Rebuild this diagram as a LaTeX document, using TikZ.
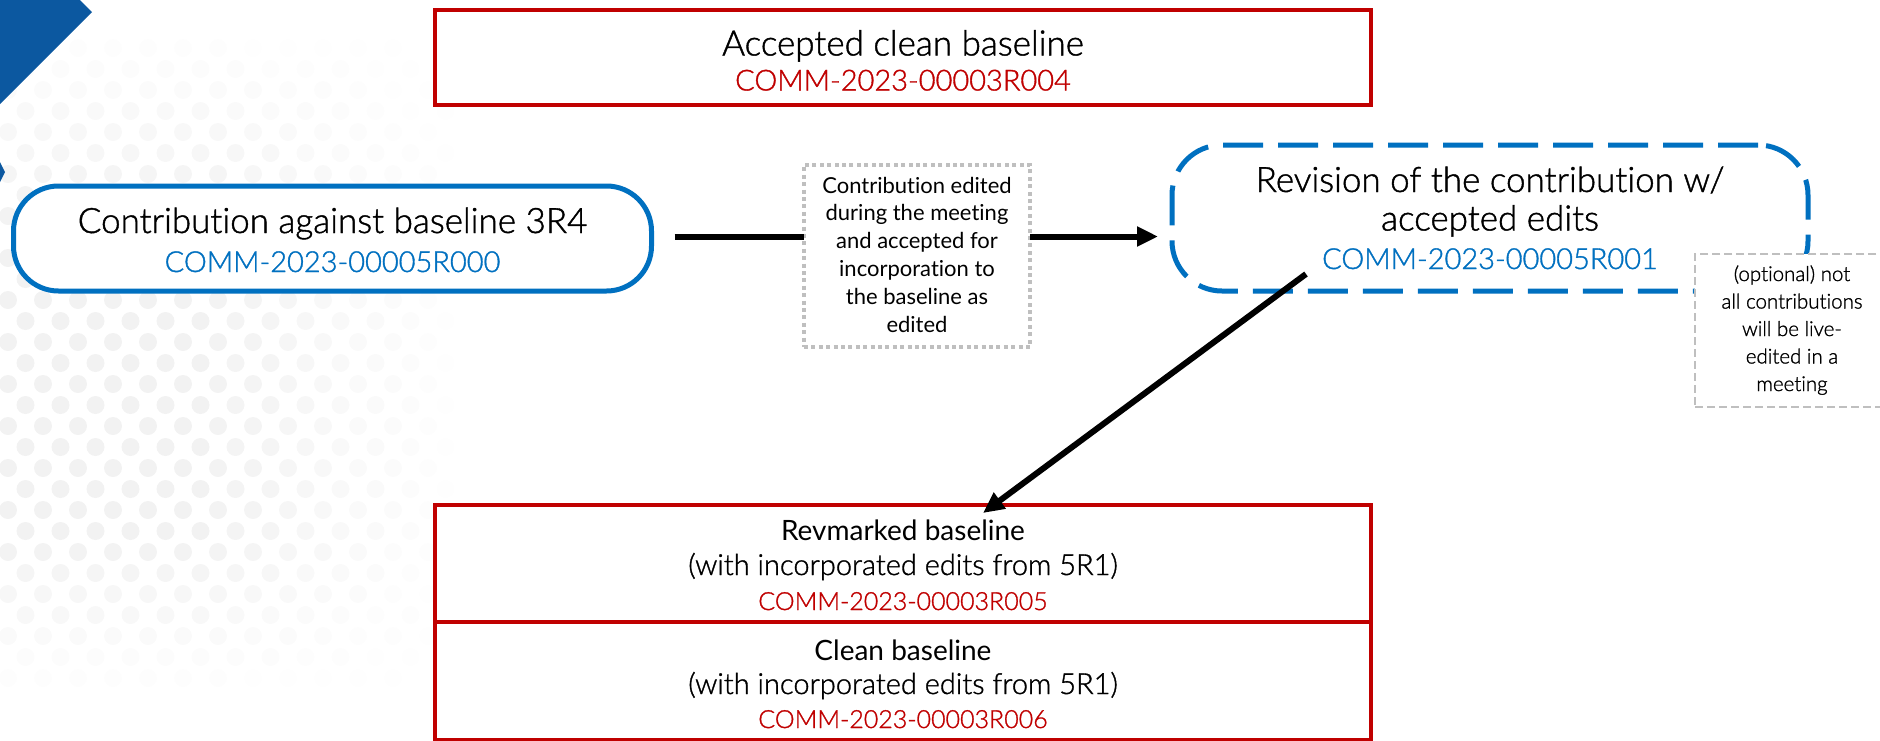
\documentclass[tikz,border=0pt]{standalone}
\usepackage{fontspec}
\setmainfont{Lato}[Ligatures=NoCommon]
\newfontfamily\lightfont{Lato Light}[Ligatures=NoCommon,FakeBold=1.2]
\usetikzlibrary{arrows.meta}
\definecolor{cred}{HTML}{C00000}
\definecolor{cblue}{HTML}{0070C0}
\definecolor{cdark}{RGB}{12,88,160}
\definecolor{cgray}{HTML}{BFBFBF}
\newcommand\hstrut[1]{\rule{0pt}{#1pt}}
\newcommand\dstrut[1]{\rule[-#1pt]{0pt}{#1pt}}
\begin{document}
\begin{tikzpicture}[x=1pt,y=-1pt,
  redbox/.style={draw=cred,line width=4pt,fill=white,inner sep=0pt,outer sep=0pt,align=center,minimum width=936pt},
  bluebox/.style={draw=cblue,line width=5pt,fill=white,rounded corners=45pt,inner sep=0pt,outer sep=0pt,align=center},
  dashbox/.style={draw=cblue,line width=5pt,fill=white,rounded corners=50pt,dash pattern=on 40pt off 15pt,inner sep=0pt,outer sep=0pt,align=center},
  dotbox/.style={draw=cgray,line width=4pt,fill=white,dash pattern=on 4pt off 3.4pt,inner sep=0pt,outer sep=0pt,align=center},
  notebox/.style={draw=cgray,line width=1.5pt,fill=white,dash pattern=on 8pt off 4pt,inner sep=0pt,outer sep=0pt,align=center},
  conn/.style={line width=6pt},
  connarrow/.style={line width=6pt,-{Triangle[length=21pt,width=19pt]}},
]
\useasboundingbox (0,0) rectangle (1880,740);
\clip (0,0) rectangle (1880,740);
\fill[white] (0,0) rectangle (1880,740);
% faint halftone dots
\foreach \r in {0,...,33}{
  \foreach \c in {0,...,14}{
    \pgfmathsetmacro\px{8+35*\c+mod(\r,2)*17.5}
    \pgfmathsetmacro\py{6+21*\r}
    \pgfmathsetmacro\op{max(0,min(1,(470-\px)/260))*max(0,min(1,(700-\py)/160))*max(0,min(1,(\py-20)/200))}
    \fill[black,opacity=0.05*\op] (\px,\py) circle (9);
  }
}
% dark blue corner shapes
\fill[cdark] (0,0) -- (80,0) -- (92,12) -- (0,104) -- cycle;
\fill[cdark] (0,162) -- (5,172) -- (0,182) -- cycle;

\node[redbox,minimum height=95pt,font=\lightfont\fontsize{35}{35}\selectfont] (top) at (903,57.5)
  {\hstrut{33}Accepted clean baseline\\\textcolor{cred}{\fontsize{29}{35}\selectfont COMM-2023-00003R004}\dstrut{2}};

\node[bluebox,minimum width=638pt,minimum height=105pt,font=\lightfont\fontsize{35}{39}\selectfont] (contrib) at (332.5,238.5)
  {\hstrut{30}Contribution against baseline 3R4\\\textcolor{cblue}{\fontsize{29}{39}\selectfont COMM-2023-00005R000}\dstrut{2}};

\node[dotbox,minimum width=226pt,minimum height=182pt,font=\fontsize{22}{27.8}\selectfont] (edited) at (917,256)
  {\hstrut{20}Contribution edited\\during the meeting\\and accepted for\\incorporation to\\the baseline as\\edited\dstrut{7}};

\node[dashbox,minimum width=636pt,minimum height=146pt,font=\lightfont\fontsize{35}{38.5}\selectfont] (revision) at (1490,218)
  {\hstrut{28}Revision of the contribution w/\\accepted edits\\\textcolor{cblue}{\fontsize{29}{38.5}\selectfont COMM-2023-00005R001}\dstrut{3}};

\node[notebox,minimum width=194pt,minimum height=153pt,font=\lightfont\fontsize{20.5}{27.5}\selectfont] (note) at (1792,330.5)
  {\hstrut{20}(optional) not\\all contributions\\will be live-\\edited in a\\meeting\dstrut{9}};

\node[redbox,minimum height=117pt,font=\lightfont\fontsize{29}{35}\selectfont] (revmarked) at (903,563.5)
  {\hstrut{25}{\normalfont\fontsize{28}{35}\selectfont Revmarked baseline}\\(with incorporated edits from 5R1)\\\textcolor{cred}{\fontsize{25}{35}\selectfont COMM-2023-00003R005}\dstrut{2}};

\node[redbox,minimum height=118pt,font=\lightfont\fontsize{29}{34}\selectfont] (clean) at (903,681)
  {\hstrut{28}{\normalfont\fontsize{28}{34}\selectfont Clean baseline}\\(with incorporated edits from 5R1)\\\textcolor{cred}{\fontsize{25}{34}\selectfont COMM-2023-00003R006}\dstrut{2}};

% connectors
\draw[conn] ([xshift=23pt,yshift=2pt]contrib.east) -- ([yshift=2pt]contrib.east -| edited.west);
\draw[connarrow] ([yshift=2pt]contrib.east -| edited.east) -- ([xshift=-14pt,yshift=2pt]contrib.east -| revision.west);
\draw[connarrow] ([xshift=134pt,yshift=17pt]revision.south west) -- ([xshift=80pt,yshift=-8pt]revmarked.north);
\end{tikzpicture}
\end{document}
